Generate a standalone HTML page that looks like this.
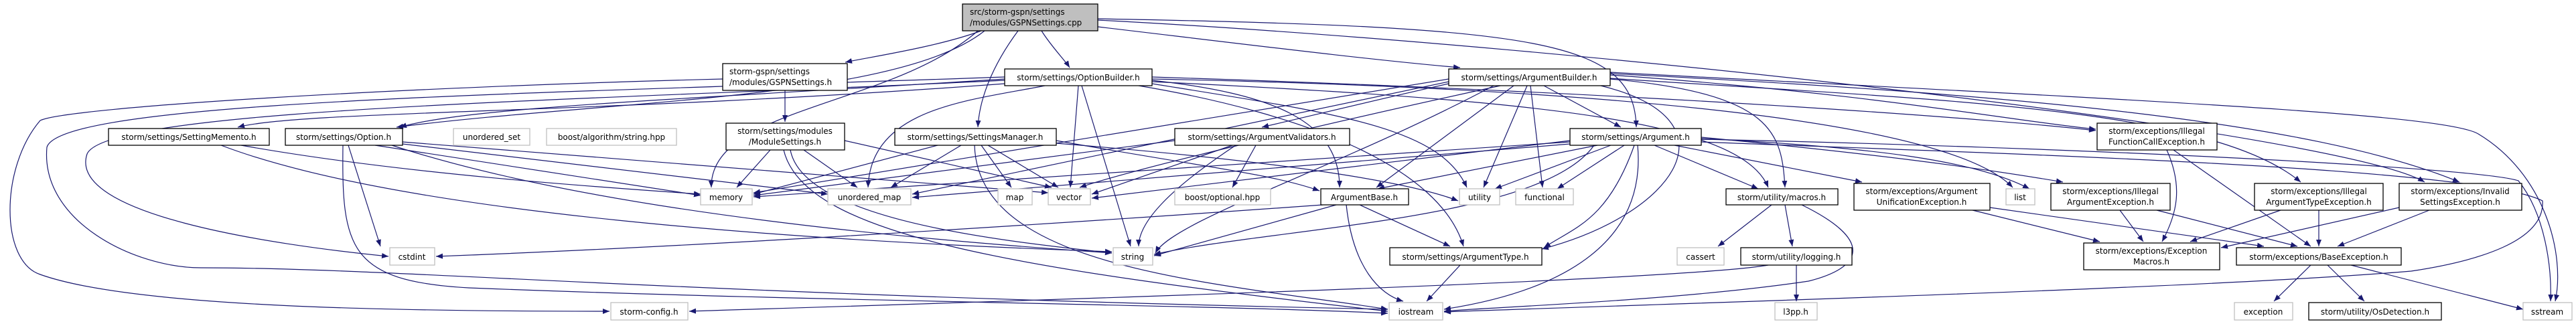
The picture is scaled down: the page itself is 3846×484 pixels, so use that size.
<!DOCTYPE html>
<html><head><meta charset="utf-8"><style>
html,body{margin:0;padding:0;background:#fff;}
svg{display:block;}
text{font-family:"DejaVu Sans","Liberation Sans",sans-serif;font-size:12px;fill:#000;}
.e{fill:none;stroke:#191970;stroke-width:1.2;marker-end:url(#a);}
.b{fill:#fff;stroke:#000;stroke-width:1.3;}
.g{fill:#fff;stroke:#bfbfbf;stroke-width:1.3;}
</style></head><body>
<svg width="3846" height="484" viewBox="0 0 3846 484" xmlns="http://www.w3.org/2000/svg">
<defs><marker id="a" markerUnits="userSpaceOnUse" markerWidth="11" markerHeight="8" refX="10" refY="4" orient="auto"><path d="M0,0 L10,4 L0,8 z" fill="#191970"/></marker></defs>
<g>
<path class="e" d="M1465,46 C1400,70 1300,85 1262,93"/>
<path class="e" d="M1555,46 C1570,70 1590,90 1597,101"/>
<path class="e" d="M1520,46 C1480,100 1462,150 1460,190"/>
<path class="e" d="M1470,46 C1340,150 900,150 592,190"/>
<path class="e" d="M1460,46 C1330,160 1060,160 1062,280"/>
<path class="e" d="M1639,40 C1850,65 2050,90 2180,101"/>
<path class="e" d="M1639,28 C2300,40 2440,60 2443,190"/>
<path class="e" d="M1639,30 C2400,70 3500,200 3620,272"/>
<path class="e" d="M1172,135 L1172,182"/>
<path class="e" d="M1079,118 C600,130 100,160 60,180 C0,250 0,390 60,410 C200,460 600,465 910,465"/>
<path class="e" d="M1610,128 L1598,280"/>
<path class="e" d="M1615,128 L1688,368"/>
<path class="e" d="M1500,118 C1000,150 700,160 597,190"/>
<path class="e" d="M1500,125 C900,170 450,165 355,190"/>
<path class="e" d="M1560,128 C1450,150 1300,160 1296,280"/>
<path class="e" d="M1500,120 C900,150 160,160 130,230 C100,320 400,365 580,383"/>
<path class="e" d="M1500,115 C800,140 90,150 70,220 C60,330 200,400 300,400 C600,400 1000,440 2072,462"/>
<path class="e" d="M1720,120 C1900,140 2000,180 2000,280"/>
<path class="e" d="M1720,118 C2300,130 2900,170 3005,280"/>
<path class="e" d="M1720,115 C2500,140 3000,180 3129,195"/>
<path class="e" d="M1720,122 C2300,150 2600,180 2640,280"/>
<path class="e" d="M1720,125 C2000,170 2150,190 2190,280"/>
<path class="e" d="M1700,128 C1950,170 2150,250 2185,368"/>
<path class="e" d="M1150,224 L1100,280"/>
<path class="e" d="M1200,224 L1280,280"/>
<path class="e" d="M1261,210 L1570,280"/>
<path class="e" d="M1180,224 C1200,330 1500,360 1660,378"/>
<path class="e" d="M1170,224 C1200,350 1500,400 2072,465"/>
<path class="e" d="M1400,217 L1125,290"/>
<path class="e" d="M1435,217 L1330,280"/>
<path class="e" d="M1465,217 L1510,280"/>
<path class="e" d="M1475,217 L1580,280"/>
<path class="e" d="M1455,217 C1460,400 1800,420 2072,462"/>
<path class="e" d="M1577,210 C1800,250 1900,260 1970,285"/>
<path class="e" d="M1577,214 C1900,240 2100,270 2177,300"/>
<path class="e" d="M1840,217 L1630,290"/>
<path class="e" d="M1845,217 C1750,280 1700,330 1700,368"/>
<path class="e" d="M1875,217 L1840,280"/>
<path class="e" d="M1754,210 L1125,292"/>
<path class="e" d="M2305,128 L2420,190"/>
<path class="e" d="M2260,128 L2055,280"/>
<path class="e" d="M2280,128 L2215,280"/>
<path class="e" d="M2285,128 L2303,280"/>
<path class="e" d="M2240,128 C2000,180 1700,250 1612,280"/>
<path class="e" d="M2230,128 C2000,250 1750,330 1725,378"/>
<path class="e" d="M2163,118 L1125,288"/>
<path class="e" d="M2163,122 L1362,290"/>
<path class="e" d="M2163,125 C2050,150 1950,175 1884,190"/>
<path class="e" d="M2390,128 C2600,180 2500,320 2302,372"/>
<path class="e" d="M2404,118 C2650,140 2660,200 2665,280"/>
<path class="e" d="M2404,112 C2800,140 3000,180 3129,193"/>
<path class="e" d="M2404,117 C2900,150 3300,160 3435,272"/>
<path class="e" d="M2404,110 C3000,140 3450,180 3672,272"/>
<path class="e" d="M2404,108 C3200,150 3650,170 3700,200 C3800,260 3830,380 3815,450"/>
<path class="e" d="M2385,217 L2057,282"/>
<path class="e" d="M2405,217 L2232,282"/>
<path class="e" d="M2425,217 L2325,282"/>
<path class="e" d="M2470,217 L2625,282"/>
<path class="e" d="M2500,217 L2780,272"/>
<path class="e" d="M2540,207 C2800,220 2950,240 3030,282"/>
<path class="e" d="M2540,205 C2800,230 2950,250 3080,272"/>
<path class="e" d="M2344,212 L1125,294"/>
<path class="e" d="M2344,215 L1362,295"/>
<path class="e" d="M2344,210 L1630,296"/>
<path class="e" d="M2440,217 C2400,330 2350,340 2305,370"/>
<path class="e" d="M2445,217 C2460,380 2300,440 2156,462"/>
<path class="e" d="M2540,208 C3100,220 3700,250 3760,270 C3800,320 3810,400 3808,450"/>
<path class="e" d="M2380,217 C2300,330 1900,340 1723,380"/>
<path class="e" d="M2030,306 L2165,368"/>
<path class="e" d="M2010,306 C2020,400 2060,440 2095,450"/>
<path class="e" d="M1995,306 L1723,382"/>
<path class="e" d="M1975,306 C1500,340 1000,370 651,383"/>
<path class="e" d="M2180,396 L2130,450"/>
<path class="e" d="M2645,306 L2565,368"/>
<path class="e" d="M2665,306 L2676,368"/>
<path class="e" d="M2690,306 C2800,360 2780,400 2700,420 C2500,450 2200,460 2156,465"/>
<path class="e" d="M2682,396 L2682,450"/>
<path class="e" d="M2640,396 C2500,420 1500,450 1029,465"/>
<path class="e" d="M2945,314 L3135,361"/>
<path class="e" d="M2971,310 L3380,368"/>
<path class="e" d="M3165,314 L3200,361"/>
<path class="e" d="M3220,314 L3430,368"/>
<path class="e" d="M3235,224 C3260,280 3250,320 3228,361"/>
<path class="e" d="M3245,224 L3450,368"/>
<path class="e" d="M3405,314 L3270,361"/>
<path class="e" d="M3462,314 L3462,368"/>
<path class="e" d="M3582,310 L3316,370"/>
<path class="e" d="M3627,314 L3490,368"/>
<path class="e" d="M3450,396 L3395,450"/>
<path class="e" d="M3475,396 L3530,450"/>
<path class="e" d="M3510,396 L3767,462"/>
<path class="e" d="M520,217 L568,368"/>
<path class="e" d="M512,217 C510,370 520,420 700,430 C1200,450 1800,455 2072,468"/>
<path class="e" d="M560,217 L1046,292"/>
<path class="e" d="M585,217 C900,320 1400,360 1660,378"/>
<path class="e" d="M601,212 L1565,288"/>
<path class="e" d="M601,215 L1236,290"/>
<path class="e" d="M360,217 C600,260 900,280 1046,290"/>
<path class="e" d="M330,217 C600,320 1200,360 1660,376"/>
<path class="e" d="M2540,212 C3000,230 3700,250 3796,300 C3800,360 3700,390 3600,405 C3300,430 2600,450 2156,466"/>
</g>
<g>
<rect x="1437" y="6" width="202" height="40" fill="#bfbfbf" stroke="#000" stroke-width="1.3"/>
<text x="1448" y="22">src/storm-gspn/settings</text><text x="1448" y="38">/modules/GSPNSettings.cpp</text>

<rect class="b" x="1079" y="95" width="186" height="40"/>
<text x="1089" y="111">storm-gspn/settings</text><text x="1089" y="127">/modules/GSPNSettings.h</text>
<rect class="b" x="1500" y="103" width="220" height="25"/><text x="1610" y="120" text-anchor="middle">storm/settings/OptionBuilder.h</text>
<rect class="b" x="2163" y="103" width="241" height="25"/><text x="2283" y="120" text-anchor="middle">storm/settings/ArgumentBuilder.h</text>

<rect class="b" x="162" y="192" width="240" height="25"/><text x="282" y="209" text-anchor="middle">storm/settings/SettingMemento.h</text>
<rect class="b" x="426" y="192" width="175" height="25"/><text x="513" y="209" text-anchor="middle">storm/settings/Option.h</text>
<rect class="g" x="677" y="192" width="114" height="25"/><text x="734" y="209" text-anchor="middle">unordered_set</text>
<rect class="g" x="816" y="192" width="194" height="25"/><text x="913" y="209" text-anchor="middle">boost/algorithm/string.hpp</text>
<rect class="b" x="1084" y="184" width="177" height="40"/>
<text x="1172" y="200" text-anchor="middle">storm/settings/modules</text><text x="1172" y="216" text-anchor="middle">/ModuleSettings.h</text>
<rect class="b" x="1336" y="192" width="241" height="25"/><text x="1456" y="209" text-anchor="middle">storm/settings/SettingsManager.h</text>
<rect class="b" x="1754" y="192" width="261" height="25"/><text x="1884" y="209" text-anchor="middle">storm/settings/ArgumentValidators.h</text>
<rect class="b" x="2344" y="192" width="196" height="25"/><text x="2442" y="209" text-anchor="middle">storm/settings/Argument.h</text>
<rect class="b" x="3131" y="184" width="179" height="40"/>
<text x="3220" y="200" text-anchor="middle">storm/exceptions/Illegal</text><text x="3220" y="216" text-anchor="middle">FunctionCallException.h</text>

<rect class="g" x="1046" y="282" width="77" height="24"/><text x="1084" y="299" text-anchor="middle">memory</text>
<rect class="g" x="1236" y="282" width="124" height="24"/><text x="1298" y="299" text-anchor="middle">unordered_map</text>
<rect class="g" x="1490" y="282" width="51" height="24"/><text x="1515" y="299" text-anchor="middle">map</text>
<rect class="g" x="1565" y="282" width="63" height="24"/><text x="1596" y="299" text-anchor="middle">vector</text>
<rect class="g" x="1754" y="282" width="143" height="24"/><text x="1825" y="299" text-anchor="middle">boost/optional.hpp</text>
<rect class="b" x="1972" y="282" width="131" height="24"/><text x="2037" y="299" text-anchor="middle">ArgumentBase.h</text>
<rect class="g" x="2179" y="282" width="60" height="24"/><text x="2209" y="299" text-anchor="middle">utility</text>
<rect class="g" x="2263" y="282" width="86" height="24"/><text x="2306" y="299" text-anchor="middle">functional</text>
<rect class="b" x="2577" y="282" width="167" height="24"/><text x="2660" y="299" text-anchor="middle">storm/utility/macros.h</text>
<rect class="b" x="2768" y="274" width="203" height="40"/>
<text x="2869" y="290" text-anchor="middle">storm/exceptions/Argument</text><text x="2869" y="306" text-anchor="middle">UnificationException.h</text>
<rect class="g" x="2995" y="282" width="43" height="24"/><text x="3016" y="299" text-anchor="middle">list</text>
<rect class="b" x="3062" y="274" width="178" height="40"/>
<text x="3151" y="290" text-anchor="middle">storm/exceptions/Illegal</text><text x="3151" y="306" text-anchor="middle">ArgumentException.h</text>
<rect class="b" x="3366" y="274" width="192" height="40"/>
<text x="3462" y="290" text-anchor="middle">storm/exceptions/Illegal</text><text x="3462" y="306" text-anchor="middle">ArgumentTypeException.h</text>
<rect class="b" x="3582" y="274" width="183" height="40"/>
<text x="3673" y="290" text-anchor="middle">storm/exceptions/Invalid</text><text x="3673" y="306" text-anchor="middle">SettingsException.h</text>

<rect class="g" x="582" y="370" width="67" height="26"/><text x="615" y="388" text-anchor="middle">cstdint</text>
<rect class="g" x="1662" y="370" width="59" height="26"/><text x="1691" y="388" text-anchor="middle">string</text>
<rect class="b" x="2075" y="370" width="227" height="26"/><text x="2188" y="388" text-anchor="middle">storm/settings/ArgumentType.h</text>
<rect class="g" x="2504" y="370" width="70" height="26"/><text x="2539" y="388" text-anchor="middle">cassert</text>
<rect class="b" x="2599" y="370" width="166" height="26"/><text x="2682" y="388" text-anchor="middle">storm/utility/logging.h</text>
<rect class="b" x="3111" y="363" width="203" height="40"/>
<text x="3212" y="379" text-anchor="middle">storm/exceptions/Exception</text><text x="3212" y="395" text-anchor="middle">Macros.h</text>
<rect class="b" x="3339" y="370" width="246" height="26"/><text x="3462" y="388" text-anchor="middle">storm/exceptions/BaseException.h</text>

<rect class="g" x="912" y="452" width="115" height="26"/><text x="969" y="470" text-anchor="middle">storm-config.h</text>
<rect class="g" x="2074" y="452" width="80" height="26"/><text x="2114" y="470" text-anchor="middle">iostream</text>
<rect class="g" x="2650" y="452" width="63" height="26"/><text x="2681" y="470" text-anchor="middle">l3pp.h</text>
<rect class="g" x="3336" y="452" width="87" height="26"/><text x="3379" y="470" text-anchor="middle">exception</text>
<rect class="b" x="3447" y="452" width="198" height="26"/><text x="3546" y="470" text-anchor="middle">storm/utility/OsDetection.h</text>
<rect class="g" x="3767" y="452" width="73" height="26"/><text x="3803" y="470" text-anchor="middle">sstream</text>
</g>
</svg>
</body></html>
